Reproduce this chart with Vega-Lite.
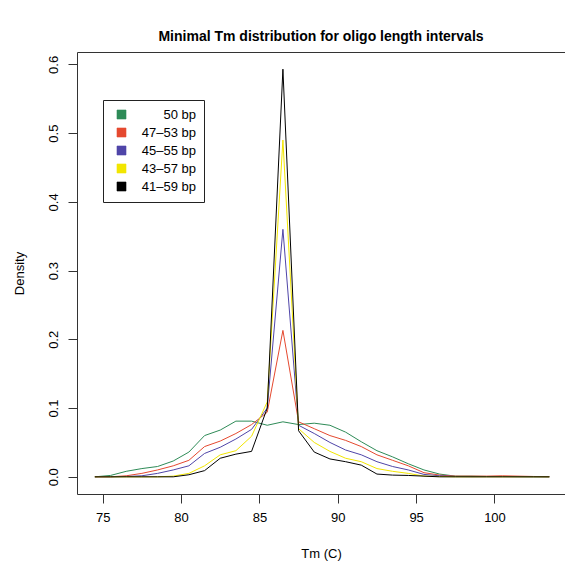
{
  "$schema": "https://vega.github.io/schema/vega-lite/v6.json",
  "autosize": "none",
  "width": 488,
  "height": 442,
  "padding": {"left": 77, "top": 52, "right": 0, "bottom": 67},
  "background": "white",
  "title": {"text": "Minimal Tm distribution for oligo length intervals", "fontSize": 14, "fontWeight": "bold", "font": "Liberation Sans", "color": "black", "anchor": "middle", "frame": "group", "offset": 8},
  "data": {"values": [
    {"s":"50 bp","t":74.5,"d":0},{"s":"50 bp","t":75.5,"d":0.002},{"s":"50 bp","t":76.5,"d":0.008},{"s":"50 bp","t":77.5,"d":0.012},{"s":"50 bp","t":78.5,"d":0.015},{"s":"50 bp","t":79.5,"d":0.023},{"s":"50 bp","t":80.5,"d":0.036},{"s":"50 bp","t":81.5,"d":0.060},{"s":"50 bp","t":82.5,"d":0.068},{"s":"50 bp","t":83.5,"d":0.081},{"s":"50 bp","t":84.5,"d":0.081},{"s":"50 bp","t":85.5,"d":0.075},{"s":"50 bp","t":86.5,"d":0.080},{"s":"50 bp","t":87.5,"d":0.076},{"s":"50 bp","t":88.5,"d":0.078},{"s":"50 bp","t":89.5,"d":0.075},{"s":"50 bp","t":90.5,"d":0.065},{"s":"50 bp","t":91.5,"d":0.051},{"s":"50 bp","t":92.5,"d":0.038},{"s":"50 bp","t":93.5,"d":0.029},{"s":"50 bp","t":94.5,"d":0.019},{"s":"50 bp","t":95.5,"d":0.010},{"s":"50 bp","t":96.5,"d":0.004},{"s":"50 bp","t":97.5,"d":0.001},{"s":"50 bp","t":98.5,"d":0.001},{"s":"50 bp","t":99.5,"d":0.0005},{"s":"50 bp","t":100.5,"d":0.0005},{"s":"50 bp","t":101.5,"d":0.0003},{"s":"50 bp","t":102.5,"d":0.0002},{"s":"50 bp","t":103.5,"d":0.0001},
    {"s":"47–53 bp","t":74.5,"d":0},{"s":"47–53 bp","t":75.5,"d":0},{"s":"47–53 bp","t":76.5,"d":0.0015},{"s":"47–53 bp","t":77.5,"d":0.005},{"s":"47–53 bp","t":78.5,"d":0.010},{"s":"47–53 bp","t":79.5,"d":0.016},{"s":"47–53 bp","t":80.5,"d":0.024},{"s":"47–53 bp","t":81.5,"d":0.044},{"s":"47–53 bp","t":82.5,"d":0.052},{"s":"47–53 bp","t":83.5,"d":0.063},{"s":"47–53 bp","t":84.5,"d":0.076},{"s":"47–53 bp","t":85.5,"d":0.094},{"s":"47–53 bp","t":86.5,"d":0.213},{"s":"47–53 bp","t":87.5,"d":0.080},{"s":"47–53 bp","t":88.5,"d":0.070},{"s":"47–53 bp","t":89.5,"d":0.060},{"s":"47–53 bp","t":90.5,"d":0.053},{"s":"47–53 bp","t":91.5,"d":0.044},{"s":"47–53 bp","t":92.5,"d":0.032},{"s":"47–53 bp","t":93.5,"d":0.024},{"s":"47–53 bp","t":94.5,"d":0.016},{"s":"47–53 bp","t":95.5,"d":0.006},{"s":"47–53 bp","t":96.5,"d":0.0025},{"s":"47–53 bp","t":97.5,"d":0.001},{"s":"47–53 bp","t":98.5,"d":0.001},{"s":"47–53 bp","t":99.5,"d":0.001},{"s":"47–53 bp","t":100.5,"d":0.0015},{"s":"47–53 bp","t":101.5,"d":0.001},{"s":"47–53 bp","t":102.5,"d":0.0005},{"s":"47–53 bp","t":103.5,"d":0.0002},
    {"s":"45–55 bp","t":74.5,"d":0},{"s":"45–55 bp","t":75.5,"d":0},{"s":"45–55 bp","t":76.5,"d":0.0005},{"s":"45–55 bp","t":77.5,"d":0.0015},{"s":"45–55 bp","t":78.5,"d":0.005},{"s":"45–55 bp","t":79.5,"d":0.010},{"s":"45–55 bp","t":80.5,"d":0.016},{"s":"45–55 bp","t":81.5,"d":0.034},{"s":"45–55 bp","t":82.5,"d":0.043},{"s":"45–55 bp","t":83.5,"d":0.055},{"s":"45–55 bp","t":84.5,"d":0.069},{"s":"45–55 bp","t":85.5,"d":0.100},{"s":"45–55 bp","t":86.5,"d":0.360},{"s":"45–55 bp","t":87.5,"d":0.075},{"s":"45–55 bp","t":88.5,"d":0.063},{"s":"45–55 bp","t":89.5,"d":0.050},{"s":"45–55 bp","t":90.5,"d":0.039},{"s":"45–55 bp","t":91.5,"d":0.032},{"s":"45–55 bp","t":92.5,"d":0.022},{"s":"45–55 bp","t":93.5,"d":0.015},{"s":"45–55 bp","t":94.5,"d":0.010},{"s":"45–55 bp","t":95.5,"d":0.0035},{"s":"45–55 bp","t":96.5,"d":0.0015},{"s":"45–55 bp","t":97.5,"d":0.0005},{"s":"45–55 bp","t":98.5,"d":0.0003},{"s":"45–55 bp","t":99.5,"d":0.0003},{"s":"45–55 bp","t":100.5,"d":0.0003},{"s":"45–55 bp","t":101.5,"d":0.0002},{"s":"45–55 bp","t":102.5,"d":0.0001},{"s":"45–55 bp","t":103.5,"d":0},
    {"s":"43–57 bp","t":74.5,"d":0},{"s":"43–57 bp","t":75.5,"d":0},{"s":"43–57 bp","t":76.5,"d":0},{"s":"43–57 bp","t":77.5,"d":0},{"s":"43–57 bp","t":78.5,"d":0},{"s":"43–57 bp","t":79.5,"d":0.001},{"s":"43–57 bp","t":80.5,"d":0.005},{"s":"43–57 bp","t":81.5,"d":0.016},{"s":"43–57 bp","t":82.5,"d":0.032},{"s":"43–57 bp","t":83.5,"d":0.038},{"s":"43–57 bp","t":84.5,"d":0.059},{"s":"43–57 bp","t":85.5,"d":0.109},{"s":"43–57 bp","t":86.5,"d":0.490},{"s":"43–57 bp","t":87.5,"d":0.070},{"s":"43–57 bp","t":88.5,"d":0.050},{"s":"43–57 bp","t":89.5,"d":0.037},{"s":"43–57 bp","t":90.5,"d":0.027},{"s":"43–57 bp","t":91.5,"d":0.022},{"s":"43–57 bp","t":92.5,"d":0.012},{"s":"43–57 bp","t":93.5,"d":0.008},{"s":"43–57 bp","t":94.5,"d":0.005},{"s":"43–57 bp","t":95.5,"d":0.001},{"s":"43–57 bp","t":96.5,"d":0.0005},{"s":"43–57 bp","t":97.5,"d":0},{"s":"43–57 bp","t":98.5,"d":0},{"s":"43–57 bp","t":99.5,"d":0},{"s":"43–57 bp","t":100.5,"d":0},{"s":"43–57 bp","t":101.5,"d":0},{"s":"43–57 bp","t":102.5,"d":0},{"s":"43–57 bp","t":103.5,"d":0},
    {"s":"41–59 bp","t":74.5,"d":0},{"s":"41–59 bp","t":75.5,"d":0},{"s":"41–59 bp","t":76.5,"d":0},{"s":"41–59 bp","t":77.5,"d":0},{"s":"41–59 bp","t":78.5,"d":0},{"s":"41–59 bp","t":79.5,"d":0},{"s":"41–59 bp","t":80.5,"d":0.003},{"s":"41–59 bp","t":81.5,"d":0.009},{"s":"41–59 bp","t":82.5,"d":0.027},{"s":"41–59 bp","t":83.5,"d":0.033},{"s":"41–59 bp","t":84.5,"d":0.037},{"s":"41–59 bp","t":85.5,"d":0.100},{"s":"41–59 bp","t":86.5,"d":0.593},{"s":"41–59 bp","t":87.5,"d":0.067},{"s":"41–59 bp","t":88.5,"d":0.036},{"s":"41–59 bp","t":89.5,"d":0.026},{"s":"41–59 bp","t":90.5,"d":0.022},{"s":"41–59 bp","t":91.5,"d":0.017},{"s":"41–59 bp","t":92.5,"d":0.004},{"s":"41–59 bp","t":93.5,"d":0.0025},{"s":"41–59 bp","t":94.5,"d":0.002},{"s":"41–59 bp","t":95.5,"d":0.001},{"s":"41–59 bp","t":96.5,"d":0},{"s":"41–59 bp","t":97.5,"d":0},{"s":"41–59 bp","t":98.5,"d":0},{"s":"41–59 bp","t":99.5,"d":0},{"s":"41–59 bp","t":100.5,"d":0},{"s":"41–59 bp","t":101.5,"d":0},{"s":"41–59 bp","t":102.5,"d":0},{"s":"41–59 bp","t":103.5,"d":0}
  ]},
  "mark": {"type": "line", "strokeWidth": 1, "clip": true},
  "encoding": {
    "x": {"field": "t", "type": "quantitative", "title": "Tm (C)",
      "scale": {"domain": [73.36, 104.5], "nice": false, "zero": false},
      "axis": {"values": [75, 80, 85, 90, 95, 100], "titleY": 63, "titleBaseline": "alphabetic", "labelPadding": 8}},
    "y": {"field": "d", "type": "quantitative", "title": "Density",
      "scale": {"domain": [-0.025, 0.618], "nice": false, "zero": false},
      "axis": {"values": [0, 0.1, 0.2, 0.3, 0.4, 0.5, 0.6], "format": ".1f", "labelAngle": 270, "labelAlign": "center", "labelBaseline": "alphabetic", "labelPadding": 11, "titleX": -54, "titleAngle": 270, "titleBaseline": "alphabetic"}},
    "color": {"field": "s", "type": "nominal", "sort": null,
      "scale": {"domain": ["50 bp", "47–53 bp", "45–55 bp", "43–57 bp", "41–59 bp"], "range": ["#2E8B57", "#E5492F", "#4F45A8", "#F2E600", "#000000"]},
      "legend": {"title": null, "orient": "none", "legendX": 26, "legendY": 48, "strokeColor": "#222", "fillColor": "white", "padding": 8, "symbolType": "square", "symbolSize": 81, "symbolOffset": 4, "labelAlign": "right", "labelOffset": 68, "labelFontSize": 13, "labelColor": "black", "rowPadding": 4,
        "encode": {"symbols": {"update": {"fill": {"scale": "color", "field": "value"}, "stroke": {"value": "#333"}, "strokeWidth": {"value": 0.6}}}}}}
  },
  "config": {
    "font": "Liberation Sans",
    "view": {"stroke": "#333", "strokeWidth": 1},
    "axis": {"grid": false, "domain": false, "tickSize": 9, "tickColor": "#333", "labelFontSize": 13, "labelColor": "black", "titleFontSize": 13, "titleFontWeight": "normal", "titleColor": "black", "labelFont": "Liberation Sans", "titleFont": "Liberation Sans"},
    "legend": {"labelFont": "Liberation Sans"}
  }
}
